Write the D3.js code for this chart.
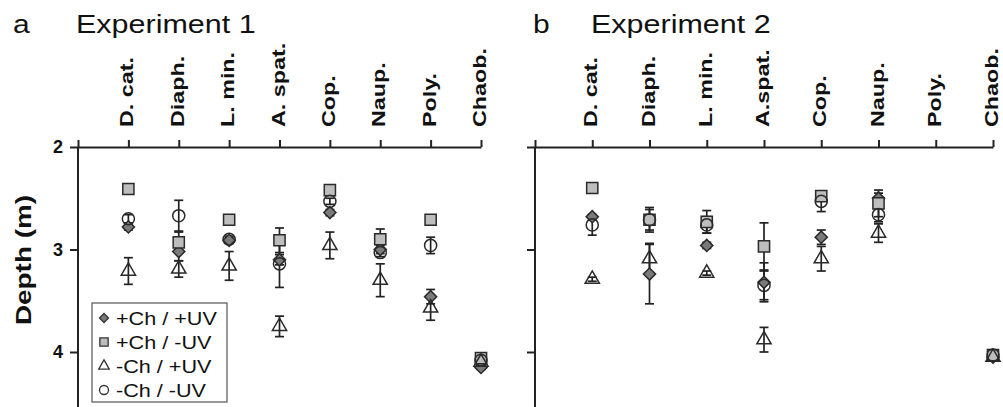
<!DOCTYPE html>
<html>
<head>
<meta charset="utf-8">
<script src="https://cdn.jsdelivr.net/npm/d3@7"></script>
<style>
  body { margin: 0; background: #fff; }
  svg { display: block; font-family: "Liberation Sans", Arial, sans-serif; }
</style>
</head>
<body>
<script>
// categories (taxa) for both experiments
var taxa1 = ["D. cat.", "Diaph.", "L. min.", "A. spat.", "Cop.", "Naup.", "Poly.", "Chaob."]
var taxa2 = ["D. cat.", "Diaph.", "L. min.", "A.spat.", "Cop.", "Naup.", "Poly.", "Chaob."]
var depthTicks = [2, 3, 4]
var treatments = ["+Ch / +UV", "+Ch / -UV", "-Ch / +UV", "-Ch / -UV"]

// Experiment 1: mean depth (m) and error per treatment
var e1ChUV = [2.78, 3.02, 2.91, 3.10, 2.64, 3.00, 3.46, 4.15]
var e1ChUVerr = [0.03, 0.09, 0.03, 0.05, 0.03, 0.04, 0.07, 0.02]
var e1ChNoUV = [2.41, 2.93, 2.71, 2.91, 2.42, 2.90, 2.71, 4.06]
var e1ChNoUVerr = [0, 0.10, 0, 0.12, 0.03, 0.10, 0, 0.03]
var e1NoChUV = [3.21, 3.19, 3.16, 3.75, 2.96, 3.30, 3.57, 4.10]
var e1NoChUVerr = [0.13, 0.08, 0.14, 0.10, 0.13, 0.16, 0.12, 0.03]
var e1NoChNoUV = [2.70, 2.67, 2.90, 3.14, 2.53, 3.03, 2.96, 4.08]
var e1NoChNoUVerr = [0.04, 0.15, 0.03, 0.23, 0.03, 0.04, 0.08, 0.03]

// Experiment 2 (no Poly. data)
var e2ChUV = [2.68, 3.24, 2.96, 3.32, 2.88, 2.50, null, 4.05]
var e2ChUVerr = [0.02, 0.29, 0.03, 0.19, 0.07, 0.05, 0, 0.02]
var e2ChNoUV = [2.40, 2.71, 2.73, 2.97, 2.48, 2.55, null, 4.03]
var e2ChNoUVerr = [0, 0.12, 0.11, 0.23, 0.03, 0.13, 0, 0.04]
var e2NoChUV = [3.29, 3.09, 3.23, 3.88, 3.09, 2.84, null, 4.05]
var e2NoChUVerr = [0.02, 0.15, 0.02, 0.12, 0.12, 0.09, 0, 0.02]
var e2NoChNoUV = [2.76, 2.71, 2.76, 3.35, 2.53, 2.66, null, 4.03]
var e2NoChNoUVerr = [0.10, 0.10, 0.08, 0.14, 0.10, 0.07, 0, 0.04]

var width = 1003
var height = 407
var ink = "#222"

var svg = d3.select("body").append("svg")
    .attr("width", width)
    .attr("height", height)

// marker styles, drawn in this order (diamond, square, then open shapes)
var markers = [
    { name: treatments[0], type: d3.symbolSquare, size: 74, rot: 45, fill: "#7a7a7a" },
    { name: treatments[1], type: d3.symbolSquare, size: 125, rot: 0, fill: "#bdbdbd" },
    { name: treatments[2], type: d3.symbolTriangle, size: 88, rot: 0, fill: "none" },
    { name: treatments[3], type: d3.symbolCircle, size: 115, rot: 0, fill: "none" }
]

var y = d3.scaleLinear().domain([2, 4]).range([147, 352])

//text stretched along its reading direction, like the source figure
function stretchText(g, str, x, yy, rot, sx, size, weight, anchor) {
    return g.append("text")
        .attr("transform", "translate(" + x + "," + yy + ") rotate(" + rot + ") scale(" + sx + ",1)")
        .attr("font-size", size)
        .attr("font-weight", weight)
        .attr("text-anchor", anchor)
        .attr("fill", "#111")
        .text(str)
}

function drawPanel(p) {
    var x = d3.scaleLinear().domain([0, 8]).range([p.x0, p.x1])
    var g = svg.append("g")

    //top axis with ticks pointing up
    g.append("g")
        .attr("transform", "translate(0," + y(2) + ")")
        .call(d3.axisTop(x).tickValues(d3.range(0, 9)).tickSize(7).tickSizeOuter(0).tickFormat(""))
        .call(a => a.selectAll("path,line").attr("stroke", ink).attr("stroke-width", 2))

    //left axis
    var yAxis = g.append("g")
        .attr("transform", "translate(" + p.x0 + ",0)")
        .call(d3.axisLeft(y).tickValues(depthTicks).tickSize(8).tickSizeOuter(0)
            .tickFormat(p.yLabels ? d3.format("d") : ""))
    yAxis.select(".domain").attr("d", "M0," + y(2) + "V" + height)
    yAxis.selectAll("path,line").attr("stroke", ink).attr("stroke-width", 2)
    yAxis.selectAll("text")
        .attr("font-size", 18).attr("font-weight", "bold").attr("fill", "#111")
        .attr("font-family", "Liberation Sans, Arial, sans-serif")
        .attr("x", -15)

    //category labels
    p.taxa.forEach(function (t, i) {
        stretchText(g, t, x(i + 1) + 5, 127, -90, 1.26, 18.5, "bold", "start")
    })

    //panel letter and title
    stretchText(g, p.letter, p.letterX, 33, 0, 1.2, 25, "normal", "start")
    stretchText(g, p.title, p.titleX, 33, 0, 1.22, 25, "normal", "start")

    //error bars
    p.series.forEach(function (s) {
        s.mean.forEach(function (m, i) {
            if (m == null || !s.err[i]) return
            var cx = x(i + 1)
            var eb = g.append("g").attr("stroke", ink).attr("stroke-width", 1.7)
            eb.append("line").attr("x1", cx).attr("x2", cx).attr("y1", y(m - s.err[i])).attr("y2", y(m + s.err[i]))
            eb.append("line").attr("x1", cx - 4.5).attr("x2", cx + 4.5).attr("y1", y(m - s.err[i])).attr("y2", y(m - s.err[i]))
            eb.append("line").attr("x1", cx - 4.5).attr("x2", cx + 4.5).attr("y1", y(m + s.err[i])).attr("y2", y(m + s.err[i]))
        })
    })

    //markers
    p.series.forEach(function (s, k) {
        var mk = markers[k]
        g.selectAll(null)
            .data(s.mean.map((m, i) => [i, m]).filter(d => d[1] != null))
            .enter()
            .append("path")
            .attr("d", d3.symbol().type(mk.type).size(mk.size))
            .attr("transform", d => "translate(" + x(d[0] + 1) + "," + y(d[1]) + ") rotate(" + mk.rot + ")")
            .attr("fill", mk.fill)
            .attr("stroke", "#2a2a2a")
            .attr("stroke-width", 1.5)
    })
}

drawPanel({
    x0: 78, x1: 481, letter: "a", letterX: 13, title: "Experiment 1", titleX: 76,
    taxa: taxa1, yLabels: true,
    series: [
        { mean: e1ChUV, err: e1ChUVerr },
        { mean: e1ChNoUV, err: e1ChNoUVerr },
        { mean: e1NoChUV, err: e1NoChUVerr },
        { mean: e1NoChNoUV, err: e1NoChNoUVerr }
    ]
})

drawPanel({
    x0: 535, x1: 993, letter: "b", letterX: 533, title: "Experiment 2", titleX: 591,
    taxa: taxa2, yLabels: false,
    series: [
        { mean: e2ChUV, err: e2ChUVerr },
        { mean: e2ChNoUV, err: e2ChNoUVerr },
        { mean: e2NoChUV, err: e2NoChUVerr },
        { mean: e2NoChNoUV, err: e2NoChNoUVerr }
    ]
})

//y axis title
stretchText(svg, "Depth (m)", 31, 260, -90, 1.27, 22, "bold", "middle")

//legend
var legend = svg.append("g")
legend.append("rect")
    .attr("x", 92).attr("y", 303).attr("width", 135).attr("height", 99)
    .attr("fill", "#fff").attr("stroke", "#555").attr("stroke-width", 1.2)
markers.forEach(function (mk, k) {
    var ly = 318 + k * 24
    legend.append("path")
        .attr("d", d3.symbol().type(mk.type).size(mk.size * 0.55))
        .attr("transform", "translate(104," + ly + ") rotate(" + mk.rot + ")")
        .attr("fill", mk.fill).attr("stroke", "#333").attr("stroke-width", 1.3)
    stretchText(legend, mk.name, 116, ly + 6.5, 0, 1.2, 18, "normal", "start")
})
</script>
</body>
</html>
